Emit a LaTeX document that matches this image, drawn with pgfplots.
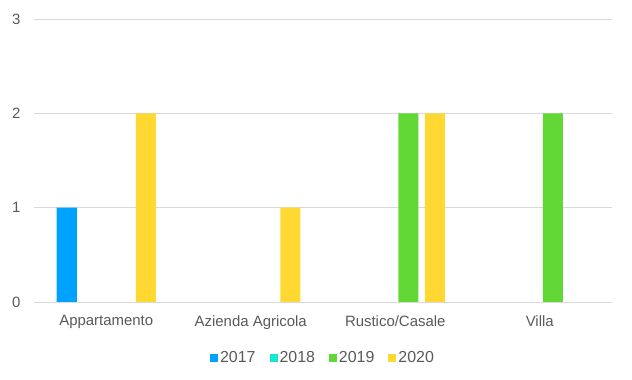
\documentclass[border=0pt]{standalone}
\usepackage{fontspec}
\setmainfont{Liberation Sans}
\usepackage{pgfplots}
\pgfplotsset{compat=1.18}
\definecolor{cA}{HTML}{00A2FF}
\definecolor{cB}{HTML}{16E7CF}
\definecolor{cC}{HTML}{61D836}
\definecolor{cD}{HTML}{FFD932}
\definecolor{txt}{HTML}{595959}
\definecolor{grd}{HTML}{D9D9D9}
\begin{document}
\begin{tikzpicture}
\useasboundingbox (0,0) rectangle (632bp,380bp);
\begin{axis}[
  at={(34bp,78bp)}, anchor=south west,
  width=578bp, height=283bp, scale only axis,
  xmin=-0.5, xmax=3.5, ymin=0, ymax=3,
  ytick={0,1,2,3},
  xtick={0,1,2,3},
  xticklabels={Appartamento,Azienda Agricola,Rustico/Casale,Villa},
  axis line style={draw=none},
  major tick length=0pt,
  ymajorgrids, grid style={grd, line width=0.8bp},
  ticklabel style={font=\fontsize{15}{17}\selectfont, text=txt},
  /pgf/number format/assume math mode=true,
  yticklabel style={xshift=-10bp},
  xticklabel style={yshift=-10bp},
  ybar, bar width=20bp,
  legend style={at={(0.5,-0.16)}, anchor=north, draw=none, fill=none,
    legend columns=-1, font=\fontsize{16}{18}\selectfont, text=txt,
    /tikz/every even column/.append style={column sep=12bp}},
  legend image code/.code={\fill[#1] (0bp,-4bp) rectangle (8bp,4bp);},
  legend cell align=left,
]
\addplot[fill=cA, draw=none, bar shift=-39.5bp] coordinates {(0,1) (1,0) (2,0) (3,0)};
\addplot[fill=cB, draw=none, bar shift=-13.2bp] coordinates {(0,0) (1,0) (2,0) (3,0)};
\addplot[fill=cC, draw=none, bar shift=13.2bp] coordinates {(0,0) (1,0) (2,2) (3,2)};
\addplot[fill=cD, draw=none, bar shift=39.5bp] coordinates {(0,2) (1,1) (2,2) (3,0)};
\legend{2017,2018,2019,2020}
\end{axis}
\end{tikzpicture}
\end{document}
